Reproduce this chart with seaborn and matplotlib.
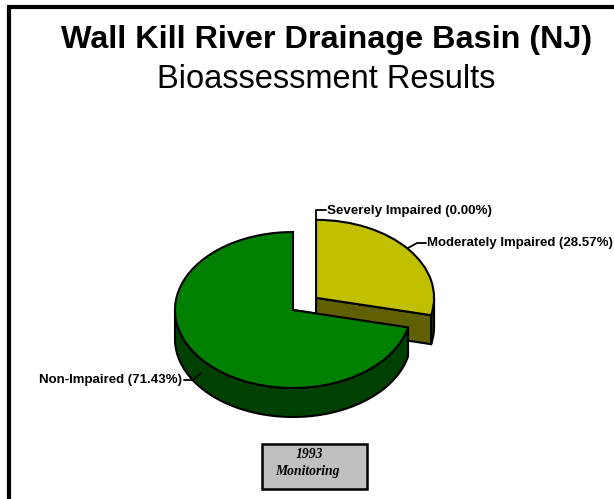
import matplotlib
matplotlib.use("Agg")
import matplotlib.pyplot as plt
from matplotlib.patches import Polygon, Rectangle
import numpy as np
import seaborn as sns

sns.set_theme(style="white")
plt.rcParams['font.family'] = ['Liberation Sans', 'DejaVu Sans']

categories = ["Moderately Impaired", "Severely Impaired", "Non-Impaired"]
values = [28.57, 0.00, 71.43]
top_colors = ["#C0C000", "#FFFF00", "#008000"]
side_colors = ["#606000", "#808000", "#004000"]

W, H = 614, 499
CX, CY, RX, RY, DEPTH = 293, 310, 118, 78, 29
depth = DEPTH / RY


def rim_face(ax, wedge, lo, hi, color, z):
    # outer rim between two angles, extruded downwards
    cx, cy = wedge.center
    a = np.radians(np.linspace(lo, hi, 80))
    xs, ys = cx + np.cos(a), cy + np.sin(a)
    pts = np.r_[np.c_[xs, ys], np.c_[xs, ys - depth][::-1]]
    ax.add_patch(Polygon(pts, fc=color, ec="black", lw=1.5, zorder=z))


fig = plt.figure(figsize=(W / 100, H / 100), dpi=100)
ax = fig.add_axes([0, 0, 1, 1])
wedges, _ = ax.pie(values, explode=[0.25, 0, 0], colors=top_colors, startangle=90,
                   counterclock=False, radius=1,
                   wedgeprops=dict(edgecolor="black", linewidth=1.5))
ax.set_aspect("auto")
ax.set_xlim(-CX / RX, (W - CX) / RX)
ax.set_ylim((CY - H) / RY, CY / RY)

# yellow slice goes behind the green one, so its faces come first
yellow, green = wedges[0], wedges[2]
cx, cy = yellow.center
end = np.radians(yellow.theta1)
ex, ey = cx + np.cos(end), cy + np.sin(end)
ax.add_patch(Polygon([(cx, cy), (ex, ey), (ex, ey - depth), (cx, cy - depth)],
                     fc=side_colors[0], ec="black", lw=1.5, zorder=1))
rim_face(ax, yellow, yellow.theta1, 0, "#303000", 1)
yellow.set_zorder(2)
rim_face(ax, green, -180, green.theta2, side_colors[2], 3)
green.set_zorder(4)

# page furniture in pixel coordinates
ov = fig.add_axes([0, 0, 1, 1], facecolor="none")
ov.set_xlim(0, W)
ov.set_ylim(H, 0)
ov.axis("off")
ov.plot([9, 9], [H, 7], color="black", lw=3, solid_capstyle="butt")
ov.plot([7, W], [7, 7], color="black", lw=3, solid_capstyle="butt")

ov.text(327, 48, "Wall Kill River Drainage Basin (NJ)", fontsize=23.3, fontweight="bold",
        ha="center", va="baseline", color="black")
ov.text(326, 88, "Bioassessment Results", fontsize=23.5, ha="center", va="baseline", color="black")

labels = [f"{c} ({v:.2f}%)" for c, v in zip(categories, values)]
ov.text(427, 243, labels[0], fontsize=9.5, fontweight="bold", ha="left", va="center", color="black")
ov.text(327, 211, labels[1], fontsize=9.6, fontweight="bold", ha="left", va="center", color="black")
ov.text(39, 380, labels[2], fontsize=9.5, fontweight="bold", ha="left", va="center", color="black")
ov.plot([426, 417, 408], [243, 243, 248], color="black", lw=1.3)
ov.plot([326, 316, 316], [210, 210, 220], color="black", lw=1.3)
ov.plot([184, 193, 201], [380, 380, 373], color="black", lw=1.3)

ov.add_patch(Rectangle((262, 443.5), 104.5, 45, fc="#C0C0C0", ec="black", lw=1.8))
ov.text(309, 454, "1993", family=["Liberation Serif"], style="italic", fontweight="bold",
        fontsize=9.8, ha="center", va="center", color="black")
ov.text(307, 472, "Monitoring", family=["Liberation Serif"], style="italic", fontweight="bold",
        fontsize=9.8, ha="center", va="center", color="black")

plt.savefig("out.png", dpi=100)
